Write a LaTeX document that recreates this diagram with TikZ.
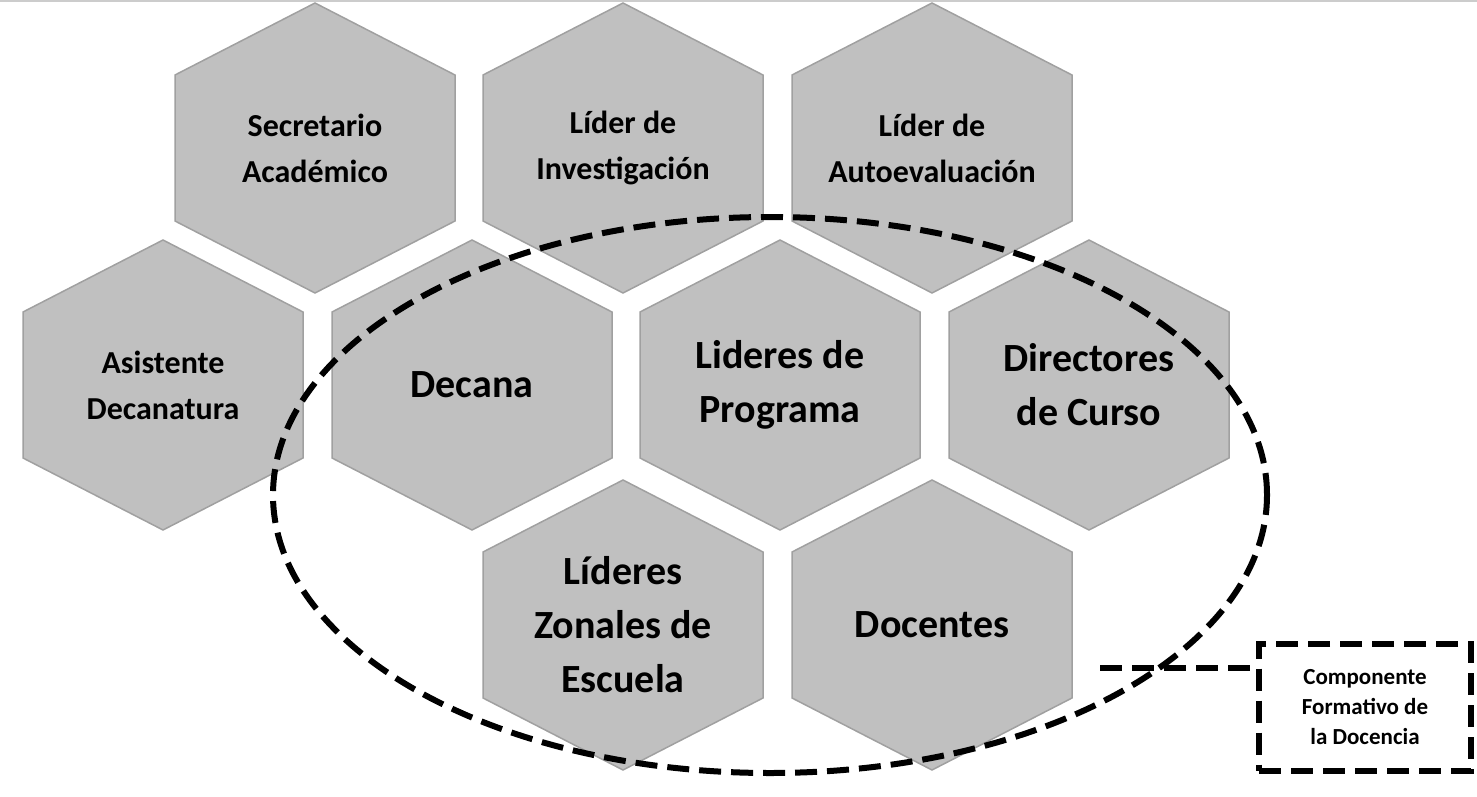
\documentclass[tikz,border=0pt]{standalone}
\usepackage{fontspec}
\setmainfont{Carlito}
\usetikzlibrary{shapes.geometric}
\definecolor{hexfill}{RGB}{192,192,192}
\definecolor{hexedge}{RGB}{160,160,160}
\tikzset{
  hexbody/.style={fill=hexfill, draw=hexedge, line width=1.5pt},
  hexsmall/.style={align=center, font=\bfseries\fontsize{32}{46}\selectfont},
  hexbig/.style={align=center, font=\bfseries\fontsize{40}{54}\selectfont},
  dashline/.style={line width=6pt, dash pattern=on 22pt off 10pt},
}
\newcommand\myhex[5]{%
  \path[hexbody] (#2-140,#3-73) -- (#2,#3-145) -- (#2+140,#3-73) -- (#2+140,#3+73) -- (#2,#3+145) -- (#2-140,#3+73) -- cycle;
  \node[#5] (#1) at (#2,#3) {#4};}
\begin{document}
\begin{tikzpicture}[x=1pt,y=-1pt]
\useasboundingbox (0,0) rectangle (1477,797);
\draw[gray!40, line width=1.5pt] (0,1) -- (1477,1);
\myhex{sec}{315}{148}{Secretario\\Académico}{hexsmall}
\myhex{inv}{623}{148}{Líder de\\Investigación}{hexsmall}
\myhex{aut}{932}{148}{Líder de\\Autoevaluación}{hexsmall}
\myhex{asi}{163}{385}{Asistente\\Decanatura}{hexsmall}
\myhex{dec}{472}{385}{Decana}{hexbig}
\myhex{lid}{780}{385}{Lideres de\\Programa}{hexbig}
\myhex{dir}{1089}{385}{Directores\\de Curso}{hexbig}
\myhex{zon}{623}{625}{Líderes\\Zonales de\\Escuela}{hexbig}
\myhex{doc}{932}{625}{Docentes}{hexbig}
\node[draw, dashline, ellipse, minimum width=994pt, minimum height=556pt] (ell) at (770,495) {};
\node[draw, dashline, minimum width=212pt, minimum height=127pt, align=center,
  font=\bfseries\fontsize{23}{30}\selectfont] (box) at (1365,707) {Componente\\Formativo de\\la Docencia};
\coordinate (c) at (1100,668);
\draw[dashline] (c) -- (box.west |- c);
\end{tikzpicture}
\end{document}
